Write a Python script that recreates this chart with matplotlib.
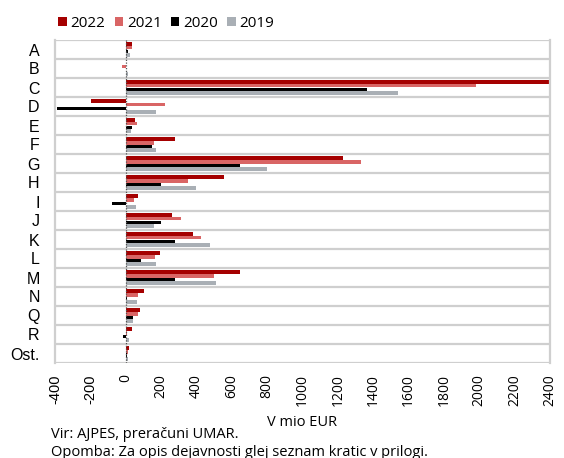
import numpy as np
import matplotlib.pyplot as plt

# Dejavnosti in letni podatki (v mio EUR)
sectors = ['A', 'B', 'C', 'D', 'E', 'F', 'G', 'H', 'I', 'J', 'K', 'L', 'M', 'N', 'Q', 'R', 'Ost.']
years = ['2022', '2021', '2020', '2019']
v2022 = [38, 0, 2395, -197, 50, 277, 1227, 554, 72, 260, 383, 193, 645, 102, 78, 34, 19]
v2021 = [34, -23, 1984, 224, 65, 158, 1330, 355, 48, 315, 427, 165, 499, 72, 68, 10, 14]
v2020 = [14, 0, 1364, -387, 38, 148, 645, 199, -76, 199, 281, 84, 279, 10, 44, -13, 6]
v2019 = [25, 12, 1542, 171, 31, 171, 799, 395, 59, 161, 478, 169, 512, 63, 44, 17, 14]
xticks = list(range(-400, 2401, 200))

colors = ['#a50000', '#d96565', '#000000', '#a9afb5']
series = [v2022, v2021, v2020, v2019]

fig = plt.figure(figsize=(5.64, 4.58), dpi=100)
ax = fig.add_axes([55 / 564, 1 - 363 / 458, 495 / 564, 323 / 458])

n = len(sectors)
ypos = np.arange(n)
h = 0.2
for i, (vals, c, lab) in enumerate(zip(series, colors, years)):
    ax.barh(ypos - 0.3 + i * h, vals, height=h, color=c, label=lab, linewidth=0)

ax.set_xlim(-400, 2400)
ax.set_ylim(n - 0.5, -0.5)

# razmejitve med dejavnostmi
for b in np.arange(n + 1) - 0.5:
    ax.axhline(b, color='#cfcfcf', lw=1.6, zorder=0)
ax.axvline(0, color='#555555', lw=0.9, ls=(0, (1, 1.2)), zorder=3)

for s in ['top', 'bottom']:
    ax.spines[s].set_visible(False)
for s in ['left', 'right']:
    ax.spines[s].set_color('#cfcfcf')
    ax.spines[s].set_linewidth(1.6)

ax.set_yticks(ypos)
ax.set_yticklabels(sectors, fontsize=11.5, family='Liberation Sans')
ax.set_xticks(xticks)
ax.set_xticklabels([str(t) for t in xticks], rotation=90, fontsize=10, family='Open Sans')
for t, lbl in zip(xticks, ax.get_xticklabels()):
    if t < 0:
        lbl.set_family('Liberation Sans')
        lbl.set_fontsize(10.5)
ax.tick_params(axis='both', length=0)
ax.tick_params(axis='y', pad=11)
ax.tick_params(axis='x', pad=8)

ax.legend(loc='lower left', bbox_to_anchor=(-0.012, 1.0), ncol=4, frameon=False,
          handlelength=0.55, handleheight=0.55, handletextpad=0.26, columnspacing=0.6,
          borderaxespad=0.2, prop={'family': 'Open Sans', 'size': 11})

fig.text(302 / 564, 1 - 423 / 458, 'V mio EUR', ha='center', va='center',
         fontsize=10.5, family='Open Sans')
fig.text(51 / 564, 1 - 434 / 458, 'Vir: AJPES, preračuni UMAR.', ha='left', va='center',
         fontsize=10.5, family='Open Sans')
fig.text(51 / 564, 1 - 452 / 458, 'Opomba: Za opis dejavnosti glej seznam kratic v prilogi.',
         ha='left', va='center', fontsize=10.5, family='Open Sans')

fig.savefig('out.png', dpi=100)
